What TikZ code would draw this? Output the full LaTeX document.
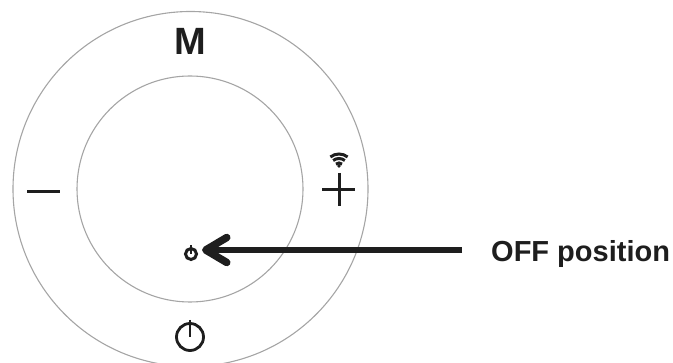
\documentclass[tikz,border=0pt]{standalone}
\usepackage{xcolor}
\usepackage{fontspec}
\setmainfont{Liberation Sans}
\usepackage{tikz}
\usetikzlibrary{arrows.meta, positioning}
\definecolor{ringgray}{RGB}{165, 165, 165}
\definecolor{inkblack}{RGB}{30, 30, 30}

\begin{document}
\begin{tikzpicture}[
  x=1pt, y=-1pt,
  ring/.style={circle, draw=ringgray, line width=1.1pt, inner sep=0pt},
  sign/.style={inkblack, line width=3pt},
  symb/.style={circle, draw=inkblack, inner sep=0pt},
  label/.style={text=inkblack, font=\bfseries, inner sep=0pt},
]
  \useasboundingbox (0,0) rectangle (673,363);

  % --- rings ---
  \node[ring, minimum size=355pt] (outerring) at (190.5,189) {};
  \node[ring, minimum size=226pt] (innerring) at (190,189) {};

  % --- button labels ---
  \node[label, font=\fontsize{38}{38}\selectfont\bfseries] (modekey) at (190.5,41) {M};
  \draw[sign] (27,192) -- (60,192);
  \draw[sign] (322,190) -- (355,190);
  \draw[sign] (339,173) -- (339,206);

  % wifi mark
  \foreach \r in {14,9.5,5} {
    \draw[inkblack, line width=3pt] (339,168) ++(-52:\r) arc[start angle=-52, end angle=-128, radius=\r];
  }
  \fill[inkblack] (339,166) circle[radius=1.8];

  % --- power marks ---
  \node[symb, line width=2.8pt, minimum size=27pt] (powerkey) at (190,337) {};
  \draw[inkblack, line width=2.6pt] (190,320) -- (powerkey.center);
  \node[symb, line width=3pt, minimum size=11pt] (powerled) at (191,254) {};
  \draw[inkblack, line width=2.2pt] (191,245.5) -- (powerled.center);

  % --- pointer ---
  \node[label, font=\fontsize{29}{30}\selectfont\bfseries, anchor=west] (offlabel) at (491,254) {OFF position};
  \coordinate (pointertail) at (462,250);
  \coordinate (pointertip) at (202,250);
  \draw[inkblack, line width=6pt, -{Straight Barb[length=21pt, width=25pt, line width=7.5pt, round]}]
    (pointertail) -- (pointertip);

\end{tikzpicture}
\end{document}
